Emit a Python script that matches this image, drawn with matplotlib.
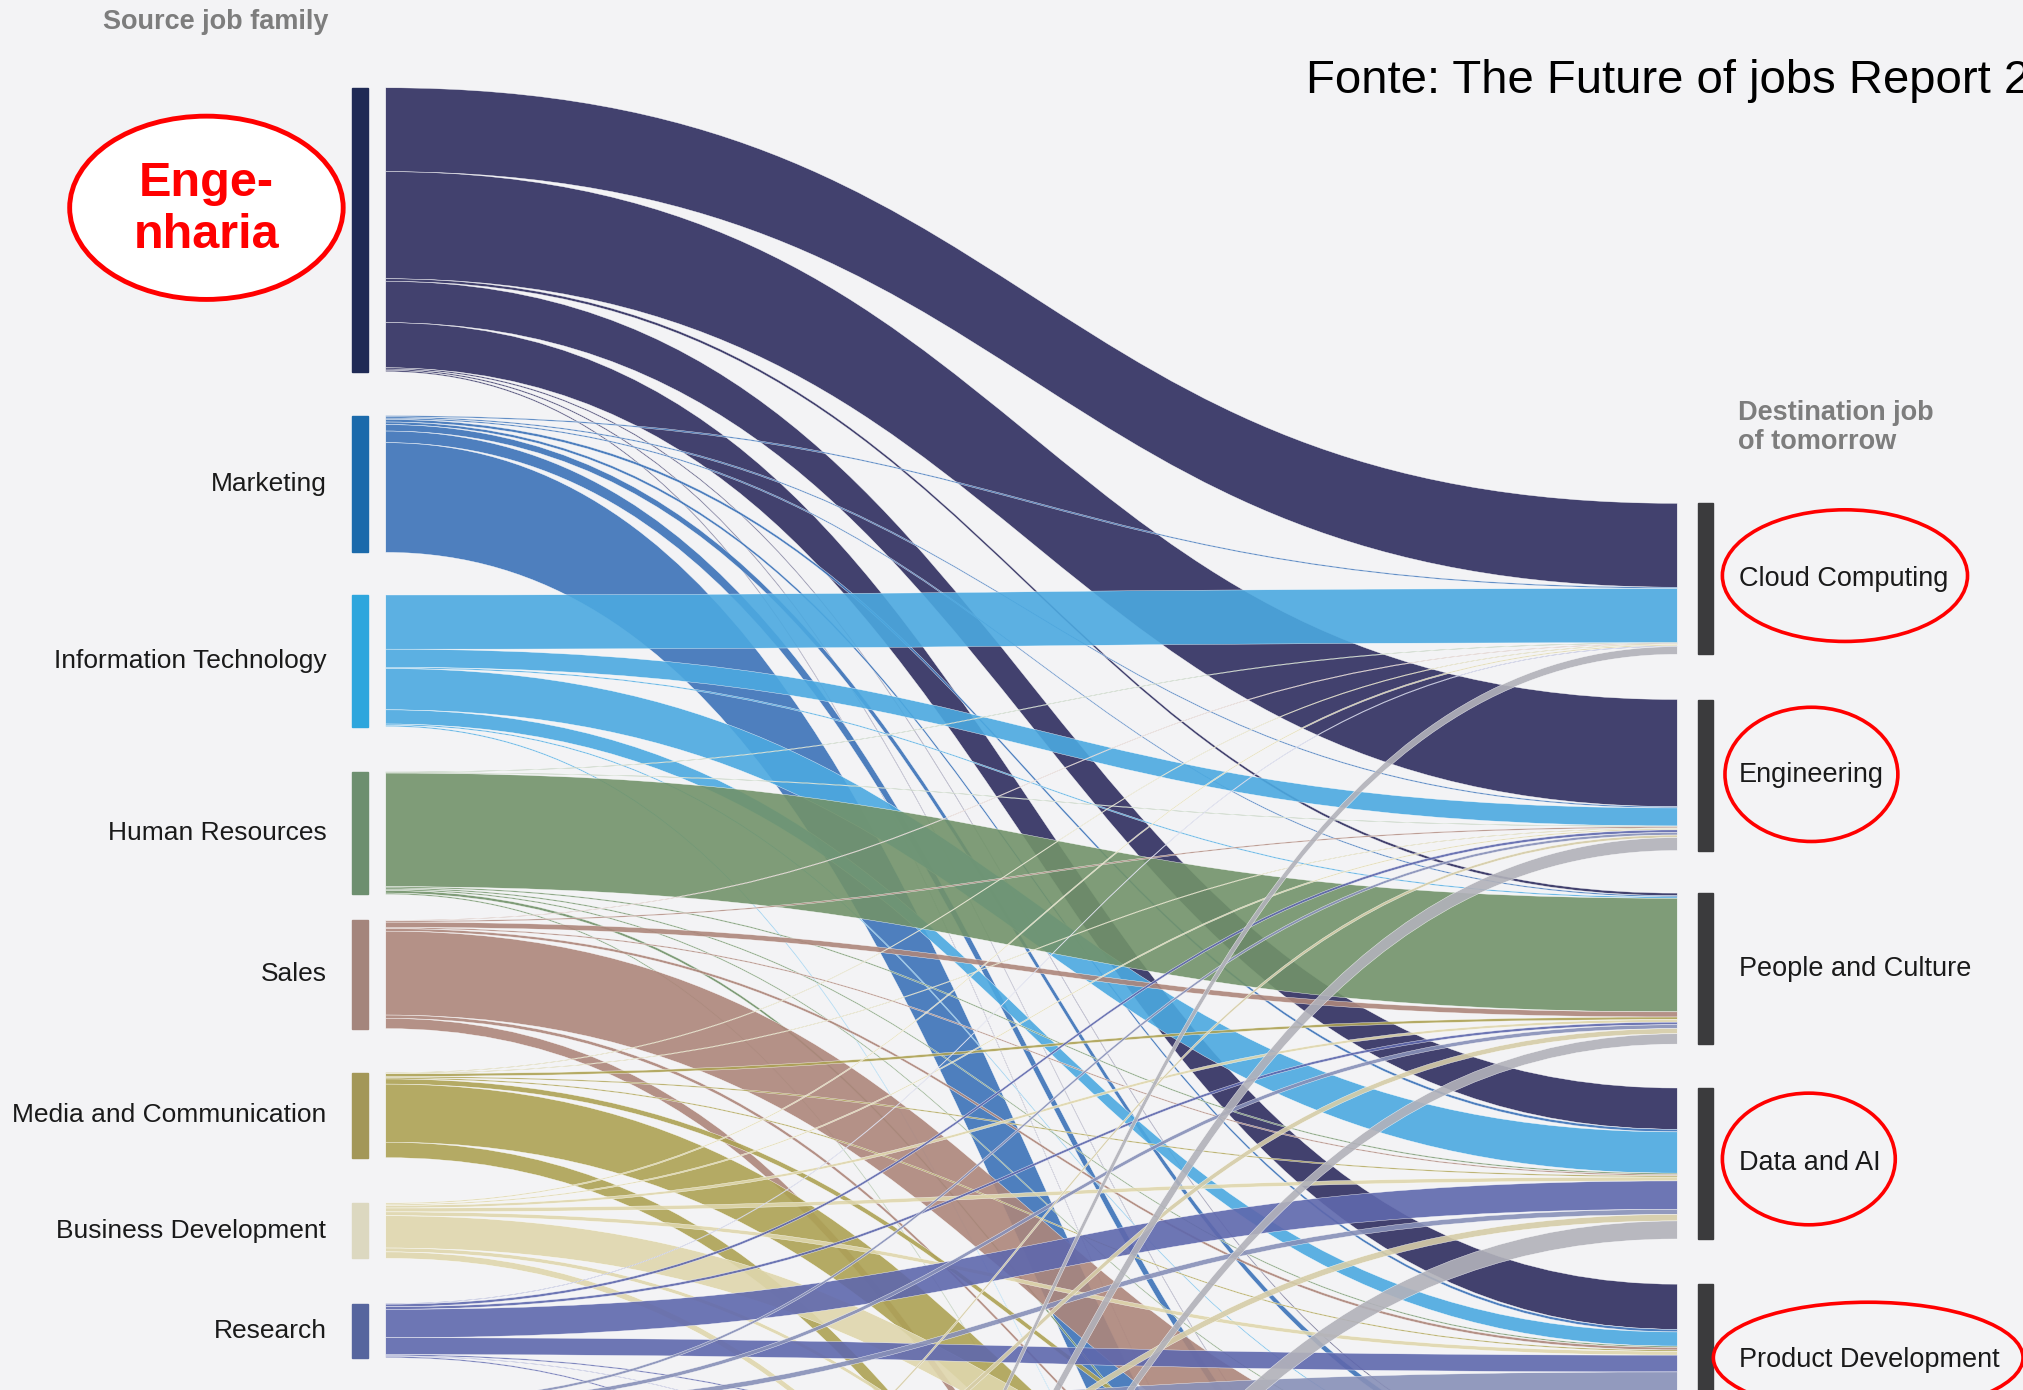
import numpy as np
import matplotlib.pyplot as plt
from matplotlib.path import Path
from matplotlib.patches import PathPatch, Ellipse, Rectangle

plt.rcParams['font.family'] = ['Liberation Sans', 'DejaVu Sans']

# source job families (the last three sit below the visible crop)
sources = ["Engineering", "Marketing", "Information Technology", "Human Resources",
           "Sales", "Media and Communication", "Business Development", "Research",
           "Operations", "Education", "Customer Service"]

# destination jobs of tomorrow (the last three sit below the visible crop)
destinations = ["Cloud Computing", "Engineering", "People and Culture", "Data and AI",
                "Product Development", "Sales", "Content Production", "Marketing"]

# transitions, rows = sources, columns = destinations
flows = np.array([
    [65.0, 83.0, 2.0, 32.0, 35.0, 1.0, 1.0, 1.0],     # Engineering
    [1.0, 1.0, 1.0, 2.0, 2.0, 5.0, 9.0, 85.0],        # Marketing
    [42.0, 14.0, 1.0, 32.0, 11.0, 1.0, 0.0, 1.0],     # Information Technology
    [0.5, 0.5, 88.0, 1.0, 1.0, 1.0, 2.0, 1.0],        # Human Resources
    [0.5, 1.0, 4.0, 1.0, 2.0, 65.0, 2.5, 8.0],        # Sales
    [0.5, 0.5, 2.0, 1.0, 1.0, 4.0, 45.0, 12.0],       # Media and Communication
    [1.0, 1.0, 2.0, 3.0, 3.0, 25.0, 3.0, 5.0],        # Business Development
    [0.5, 2.0, 2.0, 22.0, 13.0, 1.0, 0.5, 1.0],       # Research
    [0.0, 2.0, 3.0, 4.0, 16.0, 8.0, 20.0, 1.0],       # Operations
    [0.0, 2.0, 4.0, 5.0, 15.0, 3.0, 20.0, 1.0],       # Education
    [6.0, 10.0, 8.0, 14.0, 18.0, 3.0, 14.0, 1.0],     # Customer Service
])

node_colors = ['#1f2a55', '#1b6aab', '#2ea6dd', '#6d8f6f', '#a4857c', '#a39758',
               '#dcd8c0', '#56659e', '#8a92b2', '#cfc7a2', '#b4b4bb']
link_colors = ['#2f2e5f', '#3c73b8', '#4ca9e0', '#72936a', '#ad867b', '#ada254',
               '#dfd7ad', '#5f68ad', '#8890b8', '#d6cda8', '#b2b2ba']

# layout (reference pixel grid)
W, H = 1568, 1077
left_top, left_gaps = 68, [34, 33, 35, 20, 34, 35, 35, 34, 120, 250]
right_top, right_gaps = 390, [35, 33, 34, 35, 35, 35, 35]
bar_l, bar_r, bar_w = 273, 1316, 12
link_x0, link_x1 = 299, 1300

src_tot = flows.sum(axis=1)
dst_tot = flows.sum(axis=0)
src_y = left_top + np.concatenate([[0], np.cumsum(src_tot[:-1] + np.array(left_gaps))])
dst_y = right_top + np.concatenate([[0], np.cumsum(dst_tot[:-1] + np.array(right_gaps))])

fig = plt.figure(figsize=(20.23, 13.90), dpi=100)
fig.patch.set_facecolor('#f3f3f5')
ax = fig.add_axes([0, 0, 1, 1])
ax.set_facecolor('#f3f3f5')
ax.set_xlim(0, W)
ax.set_ylim(H, 0)
ax.axis('off')


def band(y0a, y0b, y1a, y1b):
    xm = (link_x0 + link_x1) / 2
    verts = [(link_x0, y0a), (xm, y0a), (xm, y1a), (link_x1, y1a),
             (link_x1, y1b), (xm, y1b), (xm, y0b), (link_x0, y0b), (link_x0, y0a)]
    codes = [Path.MOVETO, Path.CURVE4, Path.CURVE4, Path.CURVE4,
             Path.LINETO, Path.CURVE4, Path.CURVE4, Path.CURVE4, Path.CLOSEPOLY]
    return Path(verts, codes)


# offsets of each link inside its source and its destination
src_off = src_y[:, None] + np.cumsum(flows, axis=1) - flows
dst_off = dst_y[None, :] + np.cumsum(flows, axis=0) - flows

for i in range(len(sources)):
    for j in range(len(destinations)):
        v = flows[i, j]
        if v <= 0:
            continue
        p = band(src_off[i, j], src_off[i, j] + v, dst_off[i, j], dst_off[i, j] + v)
        ax.add_patch(PathPatch(p, facecolor=link_colors[i], alpha=0.9,
                               edgecolor=(1, 1, 1, 0.55), linewidth=0.3, zorder=2))

# node bars and labels (labels only where they fall inside the crop;
# the Engineering label is replaced by the red annotation)
for i, name in enumerate(sources):
    ax.add_patch(Rectangle((bar_l, src_y[i]), bar_w, src_tot[i],
                           color=node_colors[i], zorder=3))
    yc = src_y[i] + src_tot[i] / 2
    if i > 0 and yc < H - 15:
        ax.text(253, yc, name, ha='right', va='center',
                fontsize=19, color='#1a1a1a', zorder=4)

for j, name in enumerate(destinations):
    ax.add_patch(Rectangle((bar_r, dst_y[j]), bar_w, dst_tot[j],
                           color='#3b3b3d', zorder=3))
    yc = dst_y[j] + dst_tot[j] / 2
    if yc < H - 15:
        ax.text(1348, yc, name, ha='left', va='center',
                fontsize=19.5, color='#1a1a1a', zorder=4)

ax.text(80, 17, "Source job family", ha='left', va='center', fontsize=19.5,
        fontweight='bold', color='#7d7d7d')
ax.text(1347, 331, "Destination job\nof tomorrow", ha='left', va='center',
        fontsize=19.5, fontweight='bold', color='#7d7d7d', linespacing=1.15)
ax.text(1012, 63, "Fonte: The Future of jobs Report 2020", ha='left', va='center',
        fontsize=34, color='black')

# red highlight annotations
ax.add_patch(Ellipse((160, 161), 212, 142, facecolor='white', edgecolor='#ff0000',
                     linewidth=3.5, zorder=5))
ax.text(160, 162, "Enge-\nnharia", ha='center', va='center', fontsize=35,
        fontweight='bold', color='#ff0000', zorder=6)

for cx, cy, w, h in [(1430, 446, 190, 102), (1404, 600, 134, 104),
                     (1402, 898, 134, 102), (1448, 1052, 240, 86)]:
    ax.add_patch(Ellipse((cx, cy), w, h, facecolor='none', edgecolor='#ff0000',
                         linewidth=2.6, zorder=5))

fig.savefig('out.png', dpi=100, facecolor=fig.get_facecolor())
